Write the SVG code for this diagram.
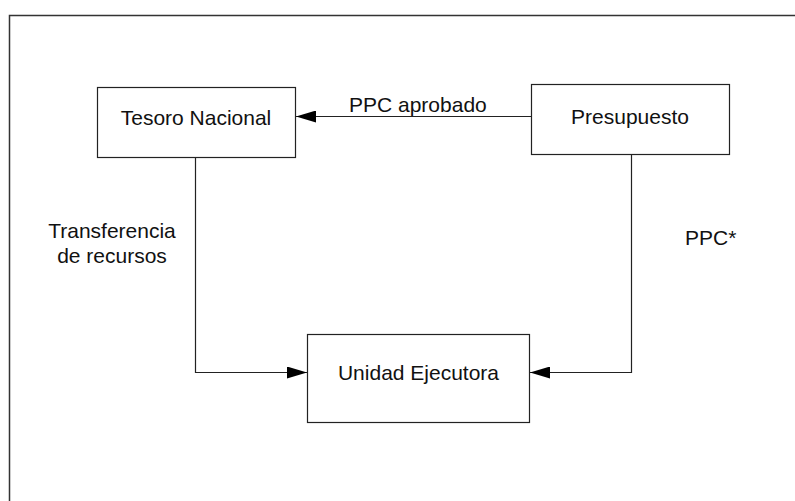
<svg xmlns="http://www.w3.org/2000/svg" width="795" height="501" viewBox="0 0 795 501">
  <style>
    .box { fill: #fff; stroke: #222; stroke-width: 1.2; }
    .lbl { font-family: "Liberation Sans", Arial, sans-serif; font-size: 21px; fill: #111; }
    .mid { text-anchor: middle; }
    .conn { fill: none; stroke: #222; stroke-width: 1.2; marker-end: url(#arrow); }
  </style>
  <defs>
    <marker id="arrow" markerUnits="userSpaceOnUse" markerWidth="20" markerHeight="12" refX="20" refY="6" orient="auto">
      <path d="M0,0 L20,6 L0,12 Z" fill="#000"/>
    </marker>
  </defs>
  <rect x="0" y="0" width="795" height="501" fill="#fff"/>
  <path d="M9.5 501 V15.5 H795" fill="none" stroke="#333" stroke-width="1.5"/>

  <g id="connectors">
    <path class="conn" d="M531.5 116.5 H296"/>
    <path class="conn" d="M195.5 157.5 V372.5 H307"/>
    <path class="conn" d="M631.5 154.5 V372.5 H530"/>
    <text class="lbl" x="349" y="111.5">PPC aprobado</text>
    <text class="lbl mid" x="112" y="238">Transferencia</text>
    <text class="lbl mid" x="112" y="263">de recursos</text>
    <text class="lbl" x="685" y="245">PPC*</text>
  </g>

  <g id="tesoro">
    <rect class="box" x="97.5" y="87.5" width="198" height="70"/>
    <text class="lbl mid" x="196" y="125">Tesoro Nacional</text>
  </g>
  <g id="presupuesto">
    <rect class="box" x="531.5" y="84.5" width="198" height="70"/>
    <text class="lbl mid" x="630" y="124">Presupuesto</text>
  </g>
  <g id="unidad">
    <rect class="box" x="307.5" y="334.5" width="222" height="88"/>
    <text class="lbl mid" x="418.5" y="379.5">Unidad Ejecutora</text>
  </g>
</svg>
